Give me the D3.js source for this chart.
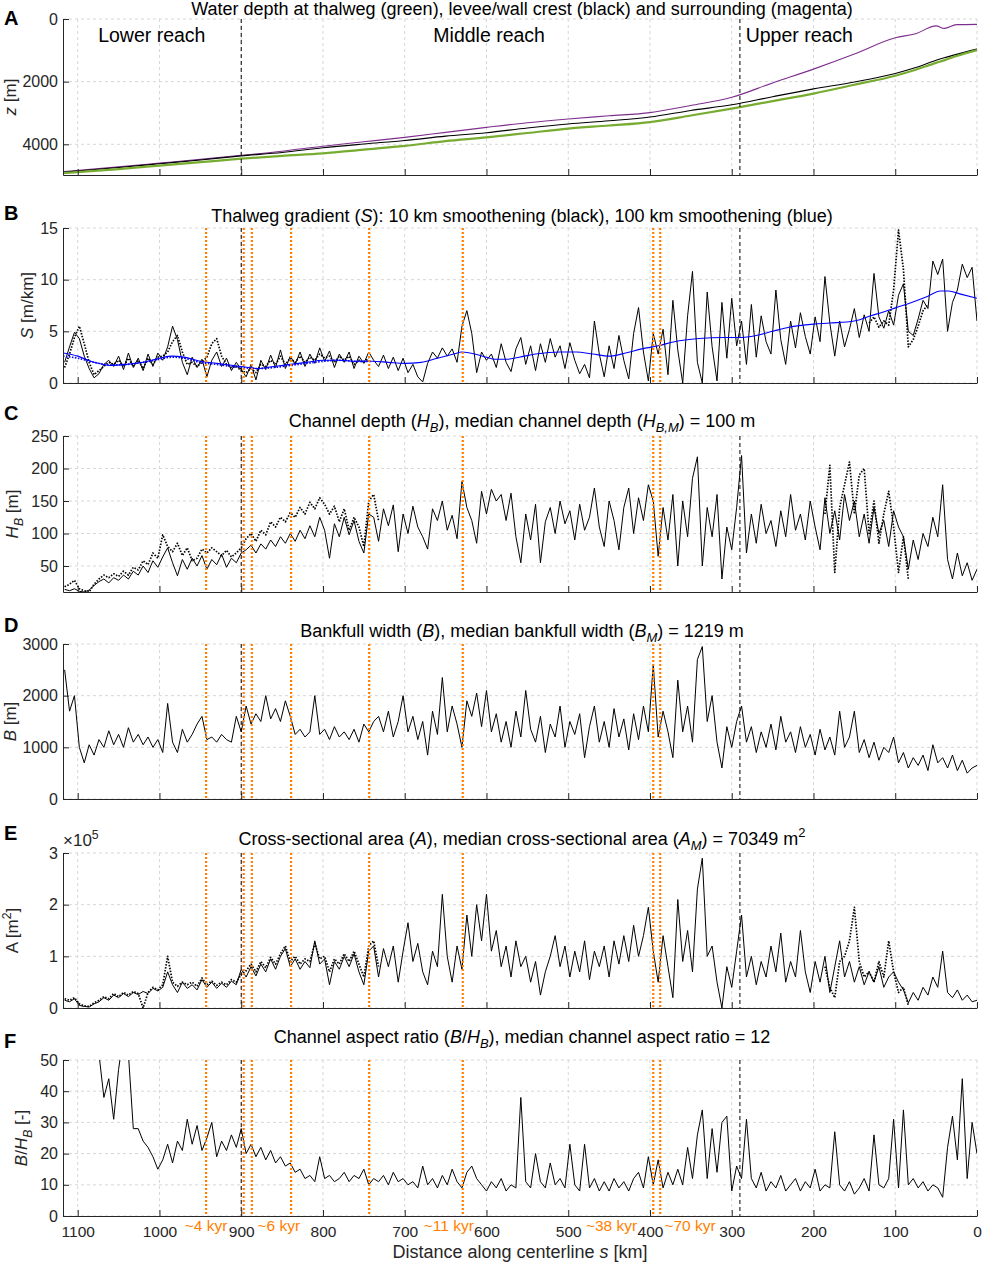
<!DOCTYPE html>
<html lang="en">
<head>
<meta charset="UTF-8">
<title>Channel profile along centerline</title>
<script src="https://cdn.jsdelivr.net/npm/d3@7"></script>
<style>
    body { margin: 0; background: #fff; }
    svg { font-family: "Liberation Sans", Arial, sans-serif; }
</style>
</head>
<body>
<div id="chart"></div>
<script>
    // stations along the centerline [km]
    const kmGrid = d3.range(1116, -1, -6)
    const kmOldLow = d3.range(1116, 731, -6)
    const kmOldLowB = d3.range(1116, 743, -6)
    const kmOldUp = d3.range(186, 83, -6)
    const kmOldUpB = d3.range(132, 59, -6)

    // A: elevation profiles (depth, m)
    const kmA = [1118, 1050, 1000, 950, 900, 850, 800, 750, 700, 650, 600, 550, 500, 450, 400, 350, 300, 250, 200, 150, 100, 75, 50, 40, 25, 0]
    const thalweg = [4920, 4790, 4680, 4570, 4460, 4370, 4290, 4170, 4050, 3900, 3780, 3640, 3500, 3400, 3290, 3080, 2860, 2620, 2380, 2100, 1810, 1620, 1400, 1320, 1180, 990]
    const levee = [4890, 4740, 4620, 4500, 4370, 4260, 4110, 3990, 3880, 3740, 3630, 3480, 3350, 3250, 3130, 2920, 2740, 2480, 2230, 2010, 1740, 1550, 1320, 1240, 1130, 960]
    const surrounding = [4870, 4720, 4600, 4480, 4350, 4220, 4060, 3920, 3780, 3620, 3460, 3310, 3190, 3090, 2990, 2760, 2500, 2040, 1600, 1120, 600, 470, 220, 300, 180, 170]

    // B: thalweg gradient [m/km]
    const slope10 = [
        2.0, 3.5, 4.9, 4.3, 2.6, 1.4, 0.5, 0.9, 1.8, 2.2,
        1.6, 2.6, 1.3, 2.9, 1.5, 2.4, 1.2, 2.8, 1.6, 2.9,
        2.2, 3.5, 5.5, 4.2, 2.0, 0.8, 2.5, 1.5, 2.3, 0.6,
        2.2, 3.0, 1.6, 2.4, 1.2, 2.0, 1.3, 0.6, 1.8, 0.3,
        2.2, 1.3, 2.7, 1.5, 3.2, 1.4, 2.6, 1.8, 3.0, 1.6,
        2.8, 1.9, 3.4, 2.1, 3.1, 1.5, 2.8, 2.0, 3.0, 1.4,
        2.6, 1.9, 3.0, 2.2, 1.6, 2.7, 1.4, 2.5, 1.2, 2.4,
        1.0, 1.8, 0.6, 0.1, 1.9, 3.0, 2.4, 3.4, 2.6, 3.3,
        2.0, 5.5, 7.0, 4.8, 1.0, 3.0, 2.2, 2.8, 1.5, 3.8,
        2.0, 1.1, 3.3, 4.4, 1.8, 3.6, 1.2, 3.8, 2.0, 4.3,
        2.5, 3.6, 1.4, 3.9, 2.2, 0.9, 1.8, 0.5, 6.0, 2.8,
        0.6, 3.6, 1.4, 4.6, 2.2, 0.4, 4.8, 7.3, 3.0, 0.2,
        4.8, 2.8, 5.2, 0.8, 8.0, 3.2, 0.0, 6.5, 10.8, 2.0,
        0.0, 8.8, 3.5, 0.2, 7.8, 2.4, 8.2, 3.6, 6.0, 1.8,
        7.6, 2.5, 6.5, 4.0, 2.8, 9.0, 4.2, 1.8, 6.0, 3.4,
        6.8, 4.5, 2.8, 6.4, 4.0, 10.3, 5.8, 2.6, 6.0, 3.5,
        5.2, 7.2, 4.4, 6.6, 5.0, 10.6, 6.4, 5.3, 7.0, 5.6,
        8.5, 9.6, 5.0, 4.6, 6.2, 8.0, 7.2, 11.8, 10.5, 12.0,
        5.0, 7.8, 9.0, 11.5, 10.2, 11.2, 6.0]
    const slope10OldLow = [
        1.5, 2.8, 4.4, 5.5, 3.8, 2.0, 0.8, 1.2, 1.6, 2.0,
        1.8, 2.2, 1.6, 2.4, 1.6, 2.2, 1.4, 2.4, 1.8, 2.5,
        2.6, 3.0, 4.0, 4.6, 3.0, 1.8, 2.0, 1.6, 2.0, 2.5,
        3.8, 4.3, 2.6, 1.8, 1.5, 1.6, 1.2, 1.0, 1.4, 1.0,
        1.8, 1.6, 2.2, 1.8, 2.6, 1.8, 2.4, 2.0, 2.6, 2.0,
        2.5, 2.2, 2.8, 2.4, 2.6, 2.0, 2.6, 2.2, 2.6, 1.8,
        2.2, 2.0, 2.4]
    const slope10OldUp = [5.8, 6.4, 5.4, 6.0, 5.6, 9.0, 14.8, 11.0, 3.5, 4.2, 5.5, 7.0, 7.6]
    const kmSmooth = [1118, 1100, 1080, 1060, 1040, 1020, 1000, 985, 970, 950, 930, 900, 880, 860, 840, 820, 800, 780, 760, 740, 720, 700, 680, 660, 640, 630, 620, 600, 590, 575, 560, 540, 510, 490, 470, 450, 430, 410, 390, 370, 340, 310, 290, 270, 250, 230, 200, 180, 150, 130, 110, 95, 80, 60, 45, 35, 20, 0]
    const slope100 = [2.9, 2.6, 2.0, 1.7, 1.8, 2.0, 2.4, 2.6, 2.5, 2.1, 1.9, 1.6, 1.4, 1.6, 1.8, 2.0, 2.2, 2.2, 2.1, 2.1, 2.0, 1.9, 2.0, 2.4, 2.8, 3.0, 2.9, 2.5, 2.3, 2.3, 2.5, 2.8, 3.0, 3.0, 2.8, 2.6, 2.9, 3.3, 3.6, 4.0, 4.3, 4.4, 4.4, 4.6, 5.0, 5.4, 5.7, 5.8, 6.0, 6.5, 7.0, 7.4, 7.8, 8.4, 8.9, 8.9, 8.6, 8.2]
    const kmSmoothOld = [1118, 1100, 1080, 1060, 1040, 1020, 1000, 985, 970, 950, 930, 900, 880, 860, 840, 820, 800, 780, 760, 740]
    const slope100Old = [2.6, 2.4, 2.0, 1.75, 1.8, 2.0, 2.3, 2.5, 2.4, 2.0, 1.8, 1.5, 1.4, 1.5, 1.7, 1.9, 2.1, 2.2, 2.1, 2.1]

    // C: channel depth [m]
    const depth = [
        14, 12, 15, 11, 10, 13, 20, 26, 30, 24,
        32, 28, 36, 30, 42, 36, 50, 40, 58, 48,
        64, 78, 55, 35, 60, 45, 62, 50, 66, 45,
        60, 52, 68, 48, 62, 55, 70, 75, 82, 70,
        84, 76, 90, 80, 95, 85, 100, 88, 105, 92,
        112, 95, 125, 105, 62, 115, 95, 125, 98, 120,
        88, 70, 130, 125, 88, 138, 112, 144, 72, 130,
        100, 142, 110, 95, 76, 138, 120, 150, 105, 128,
        92, 180, 140, 120, 85, 165, 130, 168, 150, 160,
        120, 162, 95, 55, 130, 90, 145, 55, 118, 140,
        100, 150, 115, 135, 90, 145, 105, 125, 170, 110,
        80, 150, 120, 75, 140, 170, 100, 155, 120, 175,
        150, 65, 140, 90, 160, 50, 150, 95, 185, 218,
        50, 140, 95, 160, 30, 110, 75, 140, 220, 70,
        130, 85, 145, 100, 120, 80, 135, 95, 160, 105,
        130, 90, 150, 110, 75, 155, 100, 135, 90, 160,
        120, 150, 95, 130, 85, 140, 100, 120, 80, 135,
        110, 95, 45, 90, 60, 100, 80, 125, 95, 175,
        60, 30, 70, 35, 55, 28, 45]
    const depthOldLow = [
        18, 22, 28, 15, 12, 10, 22, 30, 36, 32,
        38, 34, 42, 36, 48, 44, 58, 52, 70, 62,
        98, 80, 72, 85, 66, 78, 58, 62, 76, 70,
        78, 72, 66, 74, 64, 70, 78, 92, 100, 88,
        105, 98, 118, 110, 125, 118, 132, 125, 140, 130,
        148, 138, 155, 145, 130, 142, 118, 138, 105, 125,
        110, 80, 150, 160, 120]
    const depthOldUp = [130, 205, 40, 140, 175, 210, 130, 190, 200, 100, 150, 85, 130, 165, 110, 40, 95, 30]

    // D: bankfull width [m]
    const width = [
        2500, 1700, 2000, 1000, 700, 1050, 850, 1150, 1000, 1320,
        1050, 1250, 1000, 1380, 1100, 1250, 1050, 1200, 1000, 1150,
        900, 1850, 1100, 900, 1350, 1100, 1250, 1450, 1600, 1150,
        1200, 1100, 1250, 1150, 1100, 1600, 1300, 1800, 1450, 1650,
        1500, 2000, 1550, 1750, 1500, 1900, 1600, 1250, 1350, 1200,
        1300, 2000, 1250, 1350, 1150, 1400, 1200, 1300, 1150, 1350,
        1100, 1450, 1300, 1500, 1600, 1300, 1700, 1200, 1500, 2000,
        1300, 1600, 1150, 1500, 850, 1700, 1250, 2350, 1300, 1800,
        1450, 1000, 1900, 1600, 2050, 1400, 2100, 1300, 1650, 1100,
        1500, 1000, 1700, 1200, 2100, 1350, 1100, 1600, 900, 1450,
        1200, 1800, 1000, 1500, 1250, 1650, 800, 1400, 1800, 1100,
        1500, 1000, 1750, 1200, 1550, 950, 1650, 1150, 1800, 1300,
        2600, 1200, 1700, 1300, 800, 2300, 1300, 1800, 1100, 2700,
        2950, 1500, 2000, 1100, 600, 1400, 1000, 1500, 1800, 1100,
        1400, 900, 1300, 1000, 1450, 950, 1600, 1100, 1300, 900,
        1400, 1000, 1250, 850, 1350, 950, 1200, 850, 1700, 1000,
        1200, 1700, 900, 1150, 800, 1100, 750, 1000, 900, 1200,
        700, 900, 600, 800, 650, 850, 550, 1050, 700, 800,
        600, 850, 550, 750, 500, 600, 650]

    // E: cross-sectional area [x 1e5 m2]
    const area = [
        0.15, 0.12, 0.18, 0.05, 0.03, 0.02, 0.08, 0.12, 0.2, 0.15,
        0.25, 0.2, 0.28, 0.22, 0.3, 0.26, 0.32, 0.28, 0.38, 0.33,
        0.4, 0.7, 0.45, 0.3, 0.5, 0.38, 0.45, 0.35, 0.55, 0.4,
        0.5, 0.38, 0.48, 0.4, 0.52, 0.45, 0.75, 0.6, 0.8, 0.62,
        0.85, 0.7, 0.95, 0.75, 1.0, 1.15, 0.8, 0.95, 0.75, 0.9,
        0.78, 1.3, 0.85, 0.95, 0.45, 0.9, 0.75, 1.0, 0.8, 1.05,
        0.7, 0.45, 1.1, 1.2, 0.6, 1.15, 0.8, 1.2, 0.5, 1.1,
        1.65, 0.9, 1.25, 0.7, 0.45, 1.1, 0.8, 2.2, 1.0, 0.5,
        1.2, 0.75, 1.8, 1.0, 2.0, 1.3, 2.2, 1.1, 1.5, 0.8,
        1.2, 0.6, 1.3, 0.8, 1.0, 0.5, 0.9, 0.25, 0.7, 1.0,
        1.4, 0.8, 1.2, 0.6, 1.1, 0.7, 1.3, 0.55, 1.1, 0.8,
        1.2, 0.6, 1.3, 0.85, 1.4, 0.9, 1.6, 1.0, 1.4, 1.95,
        1.1, 0.5, 1.4, 0.8, 0.2, 2.1, 0.9, 1.5, 0.7, 2.3,
        2.9, 1.0, 1.2, 0.5, 0.0, 0.8, 0.4, 1.1, 1.8, 0.6,
        1.0, 0.45, 0.9, 0.6, 1.2, 0.7, 1.45, 0.5, 0.9, 0.6,
        1.5, 0.7, 0.3, 0.9, 0.5, 1.0, 0.3, 0.8, 1.3, 0.6,
        0.9, 0.5, 0.8, 0.45, 0.7, 0.5, 0.8, 0.4, 0.6, 0.7,
        0.5, 0.35, 0.1, 0.3, 0.15, 0.4, 0.25, 0.6, 0.4, 1.1,
        0.3, 0.2, 0.35, 0.15, 0.25, 0.12, 0.15]
    const areaOldLow = [
        0.18, 0.15, 0.2, 0.08, 0.04, 0.03, 0.1, 0.15, 0.22, 0.18,
        0.28, 0.22, 0.3, 0.25, 0.32, 0.28, 0.0, 0.3, 0.4, 0.35,
        0.45, 1.0, 0.5, 0.42, 0.5, 0.45, 0.5, 0.42, 0.58, 0.45,
        0.52, 0.44, 0.5, 0.45, 0.55, 0.5, 0.65, 0.72, 0.85, 0.7,
        0.9, 0.78, 0.98, 0.85, 1.05, 1.2, 0.9, 1.0, 0.85, 0.95,
        0.9, 1.25, 0.95, 1.0, 0.7, 0.95, 0.85, 1.05, 0.9, 1.1,
        0.85, 0.6, 1.2, 1.3, 0.8]
    const areaOldUp = [0.8, 0.4, 0.2, 0.9, 1.0, 1.3, 1.95, 0.9, 0.6, 0.7, 0.5, 0.9, 0.6, 1.3, 0.7, 0.3, 0.4, 0.05]

    // F: aspect ratio B/HB [-]
    const aspect = [
        70, 68, 75, 65, 72, 66, 60, 52, 38, 44,
        31, 47, 58, 52, 28, 28, 24, 22, 19, 15,
        18, 23, 17, 24, 21, 31, 23, 29, 21, 25,
        30, 19, 24, 21, 26, 22, 28, 20, 23, 19,
        22, 18, 21, 17, 19, 16, 17, 14, 15, 12,
        13, 11, 19, 12, 13, 11, 12, 14, 11, 13,
        12, 15, 10, 12, 11, 13, 10, 14, 11, 12,
        10, 11, 9, 16, 10, 12, 9, 13, 10, 15,
        11, 9, 14, 16, 12, 10, 8, 11, 9, 12,
        8, 10, 9, 38, 11, 9, 20, 11, 9, 17,
        10, 12, 9, 23, 10, 8, 23, 9, 12, 8,
        11, 8, 12, 9, 11, 8, 12, 14, 9, 19,
        10, 18, 9, 14, 10, 15, 10, 22, 12, 26,
        34, 12, 28, 14, 30, 32, 8, 16, 12, 31,
        12, 9, 14, 8, 11, 9, 13, 8, 10, 12,
        8, 11, 9, 15, 8, 10, 9, 27, 10, 8,
        11, 7, 9, 12, 8, 26, 10, 9, 12, 31,
        9, 34, 10, 12, 9, 11, 8, 10, 9, 6,
        22, 32, 18, 44, 12, 30, 20]

    // markers
    const reachBounds = [900, 290]
    const reachNames = ['Lower reach', 'Middle reach', 'Upper reach']
    const reachLabelKm = [1075, 665, 283]
    const ageLinesKm = [943, 897, 887, 839, 743.5, 629, 396, 387.5]
    const ageNames = ['~4 kyr', '~6 kyr', '~11 kyr', '~38 kyr', '~70 kyr']
    const ageLabelKm = [943, 854, 646, 447, 351]
    const kmTicks = [1100, 1000, 900, 800, 700, 600, 500, 400, 300, 200, 100, 0]

    const ORANGE = '#ff7f00'
    const AXIS = '#262626'
    const x = d3.scaleLinear().domain([1118, 0]).range([63, 977])

    const svg = d3.select('#chart').append('svg')
        .attr('width', 982)
        .attr('height', 1265)

    // text with italic / sub / sup pieces
    function rich(sel, parts, size) {
        let shift = 0
        parts.forEach(p => {
            const [txt, kind] = typeof p === 'string' ? [p, ''] : p
            let target = 0
            if (kind.includes('sub')) target = 0.3 * size
            if (kind.includes('sup')) target = -0.42 * size
            const t = sel.append('tspan').text(txt).attr('dy', target - shift)
            if (kind.includes('i')) t.attr('font-style', 'italic')
            if (kind.includes('sub') || kind.includes('sup')) t.attr('font-size', size * 0.72)
            shift = target
        })
    }

    const panels = [
        { id: 'A', top: 19, bottom: 175, domain: [0, 4980], ticks: [0, 2000, 4000], flip: true,
          letterY: 25, titleY: 15, labelX: 10,
          title: ['Water depth at thalweg (green), levee/wall crest (black) and surrounding (magenta)'],
          label: [['z', 'i'], ' [m]'],
          series: [
              { s: kmA, v: surrounding, color: '#7e2f8e', w: 1.1, smooth: true },
              { s: kmA, v: levee, color: '#000', w: 1.1, smooth: true },
              { s: kmA, v: thalweg, color: '#77ac30', w: 2.2, smooth: true }
          ] },
        { id: 'B', top: 228, bottom: 383, domain: [0, 15], ticks: [0, 5, 10, 15],
          letterY: 220, titleY: 222, labelX: 27, ages: true,
          title: ['Thalweg gradient (', ['S', 'i'], '): 10 km smoothening (black), 100 km smoothening (blue)'],
          label: [['S', 'i'], ' [m/km]'],
          series: [
              { s: kmOldLowB, v: slope10OldLow, color: '#000', w: 1.7, dash: '1.5,1.5' },
              { s: kmOldUpB, v: slope10OldUp, color: '#000', w: 1.7, dash: '1.5,1.5' },
              { s: kmGrid, v: slope10, color: '#000', w: 1 },
              { s: kmSmoothOld, v: slope100Old, color: '#0000ff', w: 1.7, dash: '1.5,1.5', smooth: true },
              { s: kmSmooth, v: slope100, color: '#0000ff', w: 1.1, smooth: true }
          ] },
        { id: 'C', top: 436, bottom: 592, domain: [10, 250], ticks: [50, 100, 150, 200, 250],
          letterY: 420, titleY: 427, labelX: 12, ages: true,
          title: ['Channel depth (', ['H', 'i'], ['B', 'isub'], '), median channel depth (', ['H', 'i'], ['B,M', 'isub'], ') = 100 m'],
          label: [['H', 'i'], ['B', 'isub'], ' [m]'],
          series: [
              { s: kmOldLow, v: depthOldLow, color: '#000', w: 1.7, dash: '1.5,1.5' },
              { s: kmOldUp, v: depthOldUp, color: '#000', w: 1.7, dash: '1.5,1.5' },
              { s: kmGrid, v: depth, color: '#000', w: 1 }
          ] },
        { id: 'D', top: 644, bottom: 799, domain: [0, 3000], ticks: [0, 1000, 2000, 3000],
          letterY: 632, titleY: 637, labelX: 10, ages: true,
          title: ['Bankfull width (', ['B', 'i'], '), median bankfull width (', ['B', 'i'], ['M', 'isub'], ') = 1219 m'],
          label: [['B', 'i'], ' [m]'],
          series: [
              { s: kmGrid, v: width, color: '#000', w: 1 }
          ] },
        { id: 'E', top: 853, bottom: 1008, domain: [0, 3], ticks: [0, 1, 2, 3],
          letterY: 840, titleY: 845, labelX: 12, ages: true,
          title: ['Cross-sectional area (', ['A', 'i'], '), median cross-sectional area (', ['A', 'i'], ['M', 'isub'], ') = 70349 m', ['2', 'sup']],
          label: ['A [m', ['2', 'sup'], ']'],
          series: [
              { s: kmOldLow, v: areaOldLow, color: '#000', w: 1.7, dash: '1.5,1.5' },
              { s: kmOldUp, v: areaOldUp, color: '#000', w: 1.7, dash: '1.5,1.5' },
              { s: kmGrid, v: area, color: '#000', w: 1 }
          ] },
        { id: 'F', top: 1060, bottom: 1216, domain: [0, 50], ticks: [0, 10, 20, 30, 40, 50],
          letterY: 1048, titleY: 1043, labelX: 21, ages: true, xLabels: true,
          title: ['Channel aspect ratio (', ['B', 'i'], '/', ['H', 'i'], ['B', 'isub'], '), median channel aspect ratio = 12'],
          label: [['B', 'i'], '/', ['H', 'i'], ['B', 'isub'], ' [-]'],
          series: [
              { s: kmGrid, v: aspect, color: '#000', w: 1 }
          ] }
    ]

    panels.forEach(p => {
        const y = d3.scaleLinear().domain(p.domain)
            .range(p.flip ? [p.top, p.bottom] : [p.bottom, p.top])
        const g = svg.append('g')

        svg.append('clipPath').attr('id', 'clip' + p.id)
            .append('rect')
            .attr('x', 63).attr('y', p.top)
            .attr('width', 914).attr('height', p.bottom - p.top)

        // grid
        g.selectAll('.gx').data(kmTicks).enter().append('line')
            .attr('x1', d => x(d)).attr('x2', d => x(d))
            .attr('y1', p.top).attr('y2', p.bottom)
            .attr('stroke', '#d7d7d7').attr('stroke-dasharray', '3,3')
        g.selectAll('.gy').data(p.ticks).enter().append('line')
            .attr('x1', 63).attr('x2', 977)
            .attr('y1', d => y(d)).attr('y2', d => y(d))
            .attr('stroke', '#d7d7d7').attr('stroke-dasharray', '3,3')

        // data
        const plot = g.append('g').attr('clip-path', `url(#clip${p.id})`)
        p.series.forEach(sr => {
            const line = d3.line()
                .x(d => x(d[0]))
                .y(d => y(d[1]))
                .curve(sr.smooth ? d3.curveMonotoneX : d3.curveLinear)
            plot.append('path')
                .datum(d3.zip(sr.s, sr.v))
                .attr('d', line)
                .attr('fill', 'none')
                .attr('stroke', sr.color)
                .attr('stroke-width', sr.w)
                .attr('stroke-dasharray', sr.dash || null)
                .attr('stroke-linejoin', 'round')
        })

        // reach boundaries and age markers
        if (p.ages) {
            g.selectAll('.age').data(ageLinesKm).enter().append('line')
                .attr('x1', d => x(d)).attr('x2', d => x(d))
                .attr('y1', p.top).attr('y2', p.bottom)
                .attr('stroke', ORANGE).attr('stroke-width', 2.2)
                .attr('stroke-dasharray', '2,2')
        }
        g.selectAll('.reach').data(reachBounds).enter().append('line')
            .attr('x1', d => x(d)).attr('x2', d => x(d))
            .attr('y1', p.top).attr('y2', p.bottom)
            .attr('stroke', '#000').attr('stroke-width', 1)
            .attr('stroke-dasharray', '4,3')

        // axes
        const xAxis = d3.axisBottom(x).tickValues(kmTicks)
            .tickSizeInner(-6).tickSizeOuter(0).tickPadding(10)
            .tickFormat(p.xLabels ? d3.format('d') : '')
        const yAxis = d3.axisLeft(y).tickValues(p.ticks)
            .tickSizeInner(-6).tickSizeOuter(0).tickPadding(5)
            .tickFormat(d3.format('d'))

        g.append('g')
            .attr('transform', `translate(0, ${p.bottom})`)
            .call(xAxis)
            .attr('color', AXIS)
            .style('font-size', '15.5px')
            .style('font-family', '"Liberation Sans", Arial, sans-serif')
        g.append('g')
            .attr('transform', 'translate(63, 0)')
            .call(yAxis)
            .attr('color', AXIS)
            .style('font-size', '16px')
            .style('font-family', '"Liberation Sans", Arial, sans-serif')

        // texts
        g.append('text')
            .attr('x', 4).attr('y', p.letterY)
            .attr('font-size', 20).attr('font-weight', 'bold')
            .text(p.id)

        const title = g.append('text')
            .attr('x', 522).attr('y', p.titleY)
            .attr('text-anchor', 'middle')
            .attr('font-size', 18)
        rich(title, p.title, 18)

        const lab = g.append('text')
            .attr('transform', `translate(${p.labelX + 6}, ${(p.top + p.bottom) / 2}) rotate(-90)`)
            .attr('text-anchor', 'middle')
            .attr('font-size', 17)
            .attr('fill', AXIS)
        rich(lab, p.label, 17)

        if (p.id === 'E') {
            const ex = g.append('text')
                .attr('x', 63).attr('y', 846)
                .attr('font-size', 17).attr('fill', AXIS)
            rich(ex, ['\u00d710', ['5', 'sup']], 17)
        }
    })

    // reach names in panel A
    svg.selectAll('.reachName').data(reachNames).enter().append('text')
        .attr('x', (d, i) => x(reachLabelKm[i]))
        .attr('y', 42)
        .attr('font-size', 19.5)
        .text(d => d)

    // age labels under panel F
    svg.selectAll('.ageName').data(ageNames).enter().append('text')
        .attr('x', (d, i) => x(ageLabelKm[i]))
        .attr('y', 1231)
        .attr('text-anchor', 'middle')
        .attr('font-size', 15.5)
        .attr('fill', ORANGE)
        .text(d => d)

    const xl = svg.append('text')
        .attr('x', 520).attr('y', 1258)
        .attr('text-anchor', 'middle')
        .attr('font-size', 18)
        .attr('fill', AXIS)
    rich(xl, ['Distance along centerline ', ['s', 'i'], ' [km]'], 18)
</script>
</body>
</html>
